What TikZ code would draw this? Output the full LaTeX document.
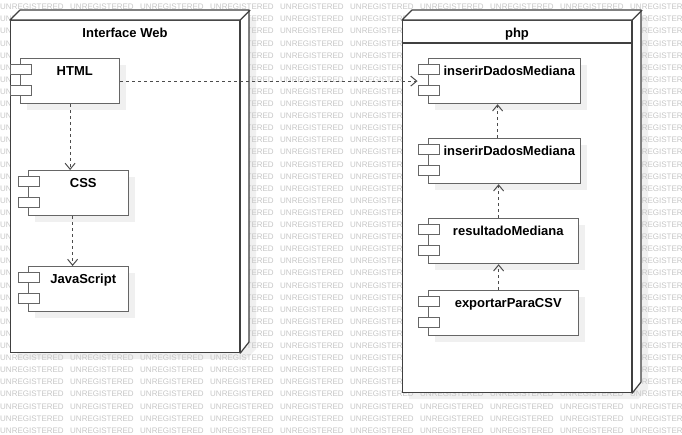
\documentclass[tikz,border=0pt]{standalone}
\usepackage{fontspec}
\setmainfont{Liberation Sans}
\usetikzlibrary{arrows.meta,positioning}

\begin{document}
\begin{tikzpicture}[x=1pt,y=-1pt,
  frame/.style={draw=black!75,line width=1.2pt,fill=white,inner sep=0pt,anchor=north west},
  comp/.style={draw=black!60,line width=1.2pt,fill=white,inner sep=0pt,anchor=north west,minimum height=45pt},
  port/.style={draw=black!60,line width=1.2pt,fill=white,inner sep=0pt,anchor=north west,minimum width=21pt,minimum height=10pt},
  drop/.style={fill=black!6},
  lbl/.style={font=\fontsize{13}{15}\selectfont\bfseries,inner sep=0pt,anchor=base},
  dep/.style={draw=black!70,line width=1pt,dash pattern=on 3pt off 3pt,-{Straight Barb[length=6pt,width=10pt,line width=1pt]}},
  wm/.style={font=\fontsize{8}{9}\selectfont,text=black!22,inner sep=0pt,anchor=west}]

  \useasboundingbox[fill=white] (0,0) rectangle (682,434);

  % node shadows
  \fill[drop] (17,27) -- (27,17) -- (256,17) -- (256,349) -- (246,359) -- (17,359) -- cycle;
  \fill[drop] (409,27) -- (419,17) -- (648,17) -- (648,389) -- (638,399) -- (409,399) -- cycle;

  % watermark, kept off the nodes
  \begin{scope}[even odd rule]
    \clip (0,0) rectangle (682,434)
      (10,20) -- (20,10) -- (249,10) -- (249,342) -- (239,352) -- (10,352) -- cycle
      (402,20) -- (412,10) -- (641,10) -- (641,382) -- (631,392) -- (402,392) -- cycle;
    \foreach \r in {0,...,35}
      \foreach \c in {0,...,9}
        \node[wm] (wm-\r-\c) at (70*\c,7+12.1*\r) {UNREGISTERED};
  \end{scope}

  % deployment nodes
  \node[frame,minimum width=229pt,minimum height=332pt] (web) at (10,20) {};
  \filldraw[draw=black!75,line width=1.2pt,fill=white,line join=round]
    (web.north west) -- ++(10,-10) -- ++(229,0) -- ++(0,332) -- (web.south east) -- (web.north east) -- cycle;
  \draw[draw=black!75,line width=1.2pt] (web.north east) -- ++(10,-10);
  \node[lbl] (web-t) at (125,37.7) {Interface Web};

  \node[frame,minimum width=229pt,minimum height=372pt] (php) at (402,20) {};
  \filldraw[draw=black!75,line width=1.2pt,fill=white,line join=round]
    (php.north west) -- ++(10,-10) -- ++(229,0) -- ++(0,372) -- (php.south east) -- (php.north east) -- cycle;
  \draw[draw=black!75,line width=1.2pt] (php.north east) -- ++(10,-10);
  \draw[draw=black!75,line width=1.2pt] ([yshift=-23pt]php.north west) -- ([yshift=-23pt]php.north east);
  \node[lbl] (php-t) at (517,37.7) {php};

  % components
  \foreach \n/\x/\y/\w/\t in {html/20/58/99/HTML, css/28/170/100/CSS, js/28/266/100/JavaScript,
      insa/428/58/152/inserirDadosMediana, insb/428/138/152/inserirDadosMediana,
      res/428/218/150/resultadoMediana, exp/428/290/150/exportarParaCSV}
  {
    \fill[drop] (\x+7,\y+7) rectangle ++(\w,45);
    \node[comp,minimum width=\w pt] (\n) at (\x,\y) {};
    \node[port] (\n-p1) at (\x-10.5,\y+6) {};
    \node[port] (\n-p2) at (\x-10.5,\y+27) {};
    \node[lbl] (\n-t) at (\x+5.25+\w/2,\y+17.7) {\t};
  }

  % dependencies
  \draw[dep] (html.south) -- (html.south |- css.north);
  \draw[dep] ([xshift=-6pt]css.south) -- ([xshift=-6pt]js.north);
  \draw[dep] (html.east) -- (html.east -| insa-p1.west);
  \draw[dep] ([xshift=-7pt]insb.north) -- ([xshift=-7pt]insa.south);
  \draw[dep] ([xshift=-5pt]res.north) -- ([xshift=-5pt]res.north |- insb.south);
  \draw[dep] ([xshift=-5pt]exp.north) -- ([xshift=-5pt]res.south);
\end{tikzpicture}
\end{document}
